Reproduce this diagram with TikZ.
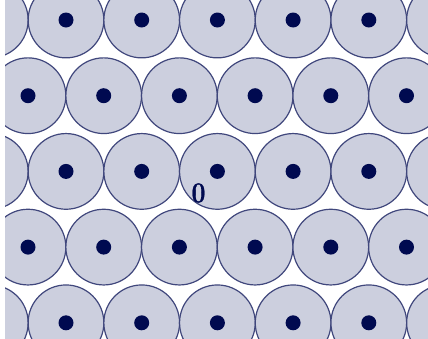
\documentclass[tikz,border=0pt]{standalone}
\usepackage{fontspec}
\usepackage{xcolor}
\usepackage{tikz}
\usetikzlibrary{positioning}

\newfontfamily\zerofont{Latin Modern Roman}[FakeBold=1.2]
\definecolor{navy}{RGB}{0,10,80}
\definecolor{disc}{RGB}{204,207,222}

\begin{document}
\begin{tikzpicture}[
  x=1pt, y=-1pt,
  cell/.style={draw=navy!75, fill=disc, line width=1.2pt},
  site/.style={fill=navy},
  lbl/.style={font=\zerofont\fontsize{29}{29}\selectfont, text=navy, inner sep=0pt, xscale=0.85}
]
  \useasboundingbox (0,0) rectangle (428,338);
  \begin{scope}
    \clip (5,0) rectangle (428,338);
    \foreach \j in {0,...,4} {
      \pgfmathsetmacro{\yy}{20+75.7*\j}
      \pgfmathsetmacro{\xo}{isodd(\j) ? 28 : -9.7}
      \foreach \i in {0,...,6} {
        \draw[cell] (\xo+75.7*\i,\yy) circle (37.85);
        \fill[site] (\xo+75.7*\i,\yy) circle (7.5);
      }
    }
  \end{scope}
  \node[lbl] (origin) at (198.5,193) {\textbf{0}};
\end{tikzpicture}
\end{document}
